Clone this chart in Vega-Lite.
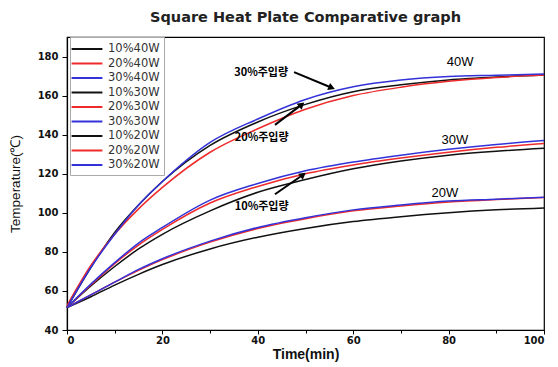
{
  "$schema": "https://vega.github.io/schema/vega-lite/v6.json",
  "width": 477,
  "height": 293,
  "autosize": "none",
  "padding": {"left": 67, "top": 37, "right": 14, "bottom": 37},
  "background": "white",
  "title": {"text": "Square Heat Plate Comparative graph", "font": "DejaVu Sans", "fontSize": 14.5, "fontWeight": "bold", "color": "#222222", "offset": 11, "anchor": "middle", "frame": "group"},
  "config": {
    "view": {"stroke": "#000000", "strokeWidth": 1.2},
    "axis": {"grid": false, "domainColor": "#000000", "domainWidth": 1.2, "tickColor": "#000000", "labelFont": "DejaVu Sans", "labelFontWeight": "bold", "labelFontSize": 10, "labelColor": "#111111", "labelOverlap": false},
    "legend": {"orient": "none", "legendX": 3, "legendY": 0, "symbolType": "M-2.2,0H2.2", "symbolSize": 196, "symbolStrokeWidth": 2, "symbolOffset": 5, "labelFontSize": 11.5, "labelFont": "DejaVu Sans", "labelColor": "#333333", "rowPadding": 0.5, "padding": 4, "strokeColor": "#aaaaaa", "fillColor": "white", "labelOffset": 13}
  },
  "datasets": {
    "series": [
      {"t": 0, "T": 51.5, "s": "10%40W"}, {"t": 5, "T": 72, "s": "10%40W"}, {"t": 10, "T": 90, "s": "10%40W"}, {"t": 15, "T": 104, "s": "10%40W"}, {"t": 20, "T": 116, "s": "10%40W"}, {"t": 30, "T": 134.5, "s": "10%40W"}, {"t": 40, "T": 146.5, "s": "10%40W"}, {"t": 50, "T": 155.5, "s": "10%40W"}, {"t": 60, "T": 162, "s": "10%40W"}, {"t": 70, "T": 165.5, "s": "10%40W"}, {"t": 80, "T": 168, "s": "10%40W"}, {"t": 90, "T": 169.5, "s": "10%40W"}, {"t": 100, "T": 170.5, "s": "10%40W"},
      {"t": 0, "T": 52.5, "s": "20%40W"}, {"t": 5, "T": 73, "s": "20%40W"}, {"t": 10, "T": 89, "s": "20%40W"}, {"t": 15, "T": 102, "s": "20%40W"}, {"t": 20, "T": 113, "s": "20%40W"}, {"t": 30, "T": 131, "s": "20%40W"}, {"t": 40, "T": 143, "s": "20%40W"}, {"t": 50, "T": 153, "s": "20%40W"}, {"t": 60, "T": 160, "s": "20%40W"}, {"t": 70, "T": 164.3, "s": "20%40W"}, {"t": 80, "T": 167.3, "s": "20%40W"}, {"t": 90, "T": 169.3, "s": "20%40W"}, {"t": 100, "T": 170.5, "s": "20%40W"},
      {"t": 0, "T": 51.5, "s": "30%40W"}, {"t": 5, "T": 72, "s": "30%40W"}, {"t": 10, "T": 89, "s": "30%40W"}, {"t": 15, "T": 104, "s": "30%40W"}, {"t": 20, "T": 116, "s": "30%40W"}, {"t": 30, "T": 136, "s": "30%40W"}, {"t": 40, "T": 148, "s": "30%40W"}, {"t": 50, "T": 158, "s": "30%40W"}, {"t": 60, "T": 164.5, "s": "30%40W"}, {"t": 70, "T": 168, "s": "30%40W"}, {"t": 80, "T": 169.8, "s": "30%40W"}, {"t": 90, "T": 170.4, "s": "30%40W"}, {"t": 100, "T": 171, "s": "30%40W"},
      {"t": 0, "T": 51.5, "s": "10%30W"}, {"t": 5, "T": 62.5, "s": "10%30W"}, {"t": 10, "T": 72.5, "s": "10%30W"}, {"t": 15, "T": 81.5, "s": "10%30W"}, {"t": 20, "T": 89, "s": "10%30W"}, {"t": 30, "T": 101, "s": "10%30W"}, {"t": 40, "T": 110.5, "s": "10%30W"}, {"t": 50, "T": 117, "s": "10%30W"}, {"t": 60, "T": 122.5, "s": "10%30W"}, {"t": 70, "T": 126.5, "s": "10%30W"}, {"t": 80, "T": 129.5, "s": "10%30W"}, {"t": 90, "T": 131.5, "s": "10%30W"}, {"t": 100, "T": 133, "s": "10%30W"},
      {"t": 0, "T": 51.5, "s": "20%30W"}, {"t": 5, "T": 63, "s": "20%30W"}, {"t": 10, "T": 74, "s": "20%30W"}, {"t": 15, "T": 83.5, "s": "20%30W"}, {"t": 20, "T": 91.5, "s": "20%30W"}, {"t": 30, "T": 105, "s": "20%30W"}, {"t": 40, "T": 113.5, "s": "20%30W"}, {"t": 50, "T": 120, "s": "20%30W"}, {"t": 60, "T": 124.5, "s": "20%30W"}, {"t": 70, "T": 128, "s": "20%30W"}, {"t": 80, "T": 131, "s": "20%30W"}, {"t": 90, "T": 133.5, "s": "20%30W"}, {"t": 100, "T": 135.5, "s": "20%30W"},
      {"t": 0, "T": 51.5, "s": "30%30W"}, {"t": 5, "T": 63.5, "s": "30%30W"}, {"t": 10, "T": 74.5, "s": "30%30W"}, {"t": 15, "T": 84.5, "s": "30%30W"}, {"t": 20, "T": 92.5, "s": "30%30W"}, {"t": 30, "T": 106.5, "s": "30%30W"}, {"t": 40, "T": 115, "s": "30%30W"}, {"t": 50, "T": 121.5, "s": "30%30W"}, {"t": 60, "T": 126, "s": "30%30W"}, {"t": 70, "T": 129.5, "s": "30%30W"}, {"t": 80, "T": 132.5, "s": "30%30W"}, {"t": 90, "T": 135, "s": "30%30W"}, {"t": 100, "T": 137, "s": "30%30W"},
      {"t": 0, "T": 51.5, "s": "10%20W"}, {"t": 5, "T": 57, "s": "10%20W"}, {"t": 10, "T": 63, "s": "10%20W"}, {"t": 15, "T": 68.5, "s": "10%20W"}, {"t": 20, "T": 73.5, "s": "10%20W"}, {"t": 30, "T": 81.5, "s": "10%20W"}, {"t": 40, "T": 87.5, "s": "10%20W"}, {"t": 50, "T": 92, "s": "10%20W"}, {"t": 60, "T": 95.5, "s": "10%20W"}, {"t": 70, "T": 98, "s": "10%20W"}, {"t": 80, "T": 100, "s": "10%20W"}, {"t": 90, "T": 101.5, "s": "10%20W"}, {"t": 100, "T": 102.5, "s": "10%20W"},
      {"t": 0, "T": 51.5, "s": "20%20W"}, {"t": 5, "T": 58, "s": "20%20W"}, {"t": 10, "T": 64.5, "s": "20%20W"}, {"t": 15, "T": 70.5, "s": "20%20W"}, {"t": 20, "T": 76, "s": "20%20W"}, {"t": 30, "T": 85, "s": "20%20W"}, {"t": 40, "T": 92, "s": "20%20W"}, {"t": 50, "T": 97, "s": "20%20W"}, {"t": 60, "T": 101, "s": "20%20W"}, {"t": 70, "T": 103.5, "s": "20%20W"}, {"t": 80, "T": 105.5, "s": "20%20W"}, {"t": 90, "T": 106.8, "s": "20%20W"}, {"t": 100, "T": 107.8, "s": "20%20W"},
      {"t": 0, "T": 51.5, "s": "30%20W"}, {"t": 5, "T": 58, "s": "30%20W"}, {"t": 10, "T": 64.5, "s": "30%20W"}, {"t": 15, "T": 71, "s": "30%20W"}, {"t": 20, "T": 76.5, "s": "30%20W"}, {"t": 30, "T": 85.5, "s": "30%20W"}, {"t": 40, "T": 92.5, "s": "30%20W"}, {"t": 50, "T": 97.5, "s": "30%20W"}, {"t": 60, "T": 101.5, "s": "30%20W"}, {"t": 70, "T": 104, "s": "30%20W"}, {"t": 80, "T": 106, "s": "30%20W"}, {"t": 90, "T": 107, "s": "30%20W"}, {"t": 100, "T": 108, "s": "30%20W"}
    ],
    "powerLabels": [
      {"text": "40W", "t": 82.4, "v": 177.4},
      {"text": "30W", "t": 81.3, "v": 137.4},
      {"text": "20W", "t": 79.2, "v": 110.3}
    ],
    "ratioLabels": [
      {"text": "30%주입량", "t": 40.7, "v": 171.6},
      {"text": "20%주입량", "t": 40.8, "v": 138.5},
      {"text": "10%주입량", "t": 40.8, "v": 103.2}
    ],
    "arrows": [
      {"id": "30%", "t": 47.6, "v": 172, "t2": 55.5, "v2": 164},
      {"id": "20%", "t": 43.6, "v": 145, "t2": 49.2, "v2": 155.4},
      {"id": "10%", "t": 43.6, "v": 109.5, "t2": 49.5, "v2": 119.5}
    ]
  },
  "layer": [
    {
      "data": {"name": "series"},
      "mark": {"type": "line", "interpolate": "monotone", "strokeWidth": 1.5},
      "encoding": {
        "x": {"field": "t", "type": "quantitative", "scale": {"domain": [0, 100], "nice": false},
          "axis": {"values": [0, 10, 20, 30, 40, 50, 60, 70, 80, 90, 100], "labelExpr": "datum.value % 20 === 0 ? datum.label : ''", "tickSize": {"condition": {"test": "datum.value % 20 === 0", "value": 4}, "value": 3}, "labelPadding": 1, "title": "Time(min)", "titleFont": "Liberation Sans", "titleFontSize": 14, "titleFontWeight": "bold", "titleColor": "#111111", "titlePadding": 2}},
        "y": {"field": "T", "type": "quantitative", "scale": {"domain": [40, 190], "nice": false},
          "axis": {"values": [40, 50, 60, 70, 80, 90, 100, 110, 120, 130, 140, 150, 160, 170, 180], "labelExpr": "datum.value % 20 === 0 ? datum.label : ''", "tickSize": {"condition": {"test": "datum.value % 20 === 0", "value": 5}, "value": 3}, "labelPadding": 4, "title": "Temperature(℃)", "titleFont": "Liberation Sans", "titleFontSize": 13.5, "titleFontWeight": "normal", "titleColor": "#111111", "titlePadding": 15}},
        "color": {"field": "s", "type": "nominal", "title": null,
          "scale": {"domain": ["10%40W", "20%40W", "30%40W", "10%30W", "20%30W", "30%30W", "10%20W", "20%20W", "30%20W"],
            "range": ["#111111", "#ee2a2a", "#3232d8", "#111111", "#ee2a2a", "#3232d8", "#111111", "#ee2a2a", "#3232d8"]}}
      }
    },
    {
      "data": {"name": "powerLabels"},
      "mark": {"type": "text", "font": "Liberation Sans", "fontSize": 13, "color": "#000000", "align": "center", "baseline": "middle"},
      "encoding": {"x": {"field": "t", "type": "quantitative"}, "y": {"field": "v", "type": "quantitative"}, "text": {"field": "text"}}
    },
    {
      "data": {"name": "ratioLabels"},
      "mark": {"type": "text", "font": "Noto Sans CJK KR", "fontSize": 11, "fontWeight": "bold", "color": "#000000", "align": "center", "baseline": "middle"},
      "encoding": {"x": {"field": "t", "type": "quantitative"}, "y": {"field": "v", "type": "quantitative"}, "text": {"field": "text"}}
    },
    {
      "data": {"name": "arrows"},
      "mark": {"type": "rule", "color": "#000000", "strokeWidth": 2},
      "encoding": {"x": {"field": "t", "type": "quantitative"}, "y": {"field": "v", "type": "quantitative"}, "x2": {"field": "t2"}, "y2": {"field": "v2"}}
    },
    {
      "data": {"name": "arrows"},
      "transform": [{"filter": "datum.id === '30%'"}],
      "mark": {"type": "point", "shape": "triangle-right", "filled": true, "color": "#000000", "size": 60, "opacity": 1, "angle": 22},
      "encoding": {"x": {"field": "t2", "type": "quantitative"}, "y": {"field": "v2", "type": "quantitative"}}
    },
    {
      "data": {"name": "arrows"},
      "transform": [{"filter": "datum.id === '20%'"}],
      "mark": {"type": "point", "shape": "triangle-right", "filled": true, "color": "#000000", "size": 60, "opacity": 1, "angle": 320},
      "encoding": {"x": {"field": "t2", "type": "quantitative"}, "y": {"field": "v2", "type": "quantitative"}}
    },
    {
      "data": {"name": "arrows"},
      "transform": [{"filter": "datum.id === '10%'"}],
      "mark": {"type": "point", "shape": "triangle-right", "filled": true, "color": "#000000", "size": 60, "opacity": 1, "angle": 323},
      "encoding": {"x": {"field": "t2", "type": "quantitative"}, "y": {"field": "v2", "type": "quantitative"}}
    }
  ]
}
